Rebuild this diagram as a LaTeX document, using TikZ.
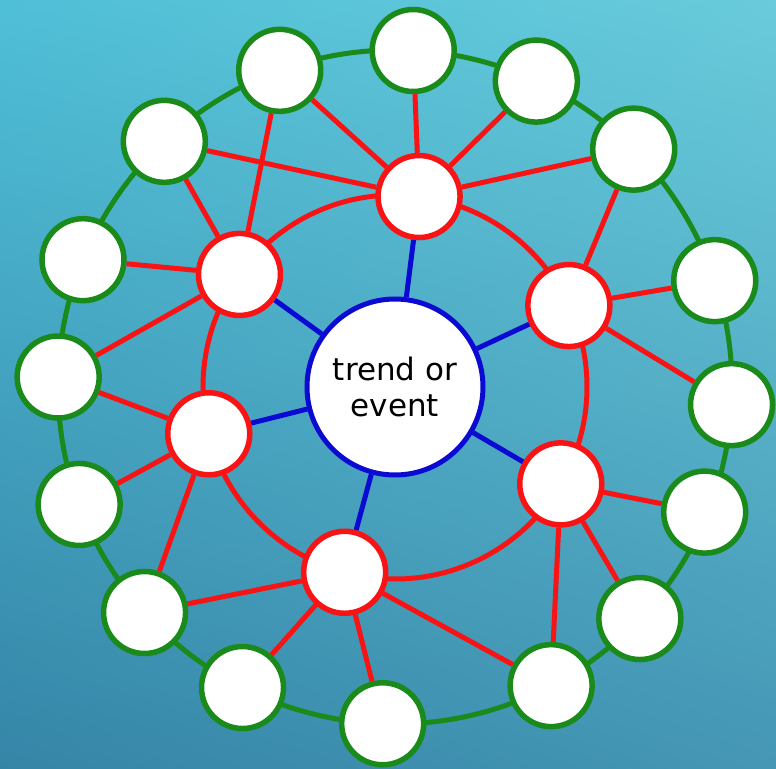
\documentclass[tikz,border=0pt]{standalone}
\usepackage{fontspec}
\setmainfont{DejaVu Sans}
\usetikzlibrary{positioning,shadings}
\definecolor{wheelgreen}{HTML}{1A8A1A}
\definecolor{wheelred}{HTML}{F81414}
\definecolor{wheelblue}{HTML}{0A0AD2}
\definecolor{skytl}{HTML}{4FBFD7}
\definecolor{skytr}{HTML}{69CBDB}
\definecolor{skybl}{HTML}{3585A7}
\definecolor{skybr}{HTML}{4597B5}

\begin{document}
\begin{tikzpicture}[
  x=1pt, y=1pt,
  bub/.style={circle, fill=white, line width=5.5pt, minimum size=82pt, inner sep=0pt},
  leaf/.style={bub, draw=wheelgreen},
  mid/.style={bub, draw=wheelred},
  hub/.style={circle, fill=white, draw=wheelblue, line width=5pt, minimum size=176pt, align=center, font=\fontsize{31}{36}\selectfont},
  spoke/.style={line width=5pt, draw=wheelblue},
  link/.style={line width=5pt, draw=wheelred},
  ring/.style={line width=5pt}
]
\shade[upper left=skytl, upper right=skytr, lower left=skybl, lower right=skybr] (-395,-381) rectangle (381,387);
\coordinate (o) at (0,0);
\draw[ring, draw=wheelgreen] (o) circle[radius=337pt];
\draw[ring, draw=wheelred] (o) circle[radius=192pt];

\node[hub] (ev) at (o) {trend or\\event};

\node[mid] (r1) at (25.1:192) {};
\node[mid] (r2) at (82.8:192) {};
\node[mid] (r3) at (144.1:192) {};
\node[mid] (r4) at (194.1:192) {};
\node[mid] (r5) at (254.8:192) {};
\node[mid] (r6) at (329.7:192) {};

\node[leaf] (g1) at (-3:337) {};
\node[leaf] (g2) at (18.4:337) {};
\node[leaf] (g3) at (44.9:337) {};
\node[leaf] (g4) at (65.2:337) {};
\node[leaf] (g5) at (86.9:337) {};
\node[leaf] (g6) at (110:337) {};
\node[leaf] (g7) at (133.2:337) {};
\node[leaf] (g8) at (157.8:337) {};
\node[leaf] (g9) at (178.3:337) {};
\node[leaf] (g10) at (200.4:337) {};
\node[leaf] (g11) at (222:337) {};
\node[leaf] (g12) at (243.1:337) {};
\node[leaf] (g13) at (267.9:337) {};
\node[leaf] (g14) at (297.6:337) {};
\node[leaf] (g15) at (316.6:337) {};
\node[leaf] (g16) at (338:334) {};

\draw[spoke] (ev) -- (r1);
\draw[spoke] (ev) -- (r2);
\draw[spoke] (ev) -- (r3);
\draw[spoke] (ev) -- (r4);
\draw[spoke] (ev) -- (r5);
\draw[spoke] (ev) -- (r6);

\draw[link] (r1) -- (g1);
\draw[link] (r1) -- (g2);
\draw[link] (r1) -- (g3);
\draw[link] (r2) -- (g3);
\draw[link] (r2) -- (g4);
\draw[link] (r2) -- (g5);
\draw[link] (r2) -- (g6);
\draw[link] (r2) -- (g7);
\draw[link] (r3) -- (g6);
\draw[link] (r3) -- (g7);
\draw[link] (r3) -- (g8);
\draw[link] (r3) -- (g9);
\draw[link] (r4) -- (g9);
\draw[link] (r4) -- (g10);
\draw[link] (r4) -- (g11);
\draw[link] (r5) -- (g11);
\draw[link] (r5) -- (g12);
\draw[link] (r5) -- (g13);
\draw[link] (r5) -- (g14);
\draw[link] (r6) -- (g14);
\draw[link] (r6) -- (g15);
\draw[link] (r6) -- (g16);
\end{tikzpicture}
\end{document}
